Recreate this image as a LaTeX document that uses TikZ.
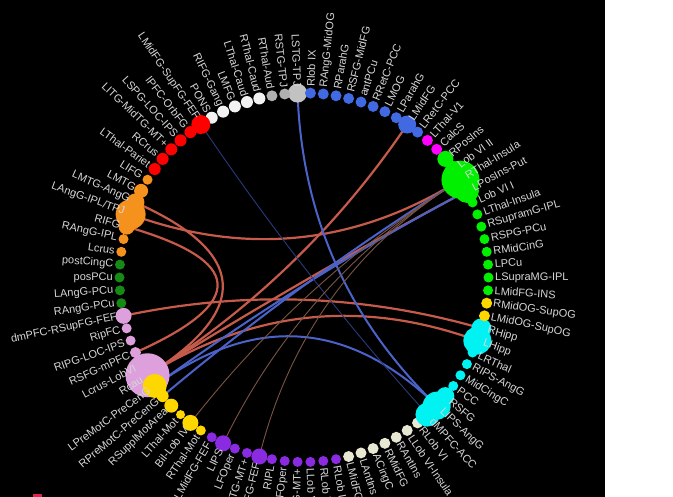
\documentclass[tikz,border=0pt]{standalone}
\usepackage{fontspec}
\setmainfont{Liberation Sans}
\usetikzlibrary{calc}
\pgfdeclarelayer{canvas}
\pgfdeclarelayer{links}
\pgfsetlayers{canvas,links,main}

% node groups
\definecolor{greybig}{HTML}{C2C2C2}
\definecolor{cgrey}{HTML}{B0B0B0}
\definecolor{cwhite}{HTML}{F2F2F2}
\definecolor{cred}{HTML}{FF0000}
\definecolor{corange}{HTML}{F5921E}
\definecolor{cgreen}{HTML}{158A15}
\definecolor{cplum}{HTML}{DDA0DD}
\definecolor{cgold}{HTML}{FFD700}
\definecolor{cpurple}{HTML}{8A2BE2}
\definecolor{ccream}{HTML}{E8E8D2}
\definecolor{ccyan}{HTML}{00F2F2}
\definecolor{clime}{HTML}{00F000}
\definecolor{cmagenta}{HTML}{FF00FF}
\definecolor{cblue}{HTML}{4169E1}
% links and text
\definecolor{linkred}{HTML}{C65B4B}
\definecolor{linkblue}{HTML}{4B63C9}
\definecolor{linknavy}{HTML}{2B3A7A}
\definecolor{linkbrown}{HTML}{7B5443}
\definecolor{labelgrey}{HTML}{D6D6D6}
\definecolor{swatch}{HTML}{E3234F}

\def\tpj{LAngG-IPL/TPJ}
% chord between two ring nodes, bent through the ring centre (o)
\newcommand\linkchord[3]{%
  \draw[#1] (n#2.center) .. controls ($(n#2.center)!0.6667!(o)$)
    and ($(n#3.center)!0.6667!(o)$) .. (n#3.center);}

\begin{document}
\begin{tikzpicture}[x=1pt,y=1pt,
  dot/.style={circle,inner sep=0pt,draw=none,minimum size={2*#1pt}},
  lbl/.style={text=labelgrey,font=\fontsize{11}{12}\selectfont,inner sep=0pt},
  redlink/.style={draw=linkred,line width=2.2pt},
  bluelink/.style={draw=linkblue,line width=2pt},
  navylink/.style={draw=linknavy,line width=0.9pt},
  brownlink/.style={draw=linkbrown,line width=0.9pt}]
\useasboundingbox (0,0) rectangle (673,497);
\begin{pgfonlayer}{canvas}
  \fill[white] (0,0) rectangle (673,497);
  \fill[black] (0,0) rectangle (605,497);
  \fill[swatch] (33,0) rectangle (42,2.5);
\end{pgfonlayer}
\clip (0,0) rectangle (673,497);

\begin{scope}[shift={(304,219.5)}]
\coordinate (o) at (0,0);

% ring of nodes
\foreach \a/\c/\r in {
  92/greybig/9.5, 96/cgrey/5.5, 100/cgrey/5.5,
  104/cwhite/6, 108/cwhite/6, 112/cwhite/6, 116/cwhite/6, 120/cwhite/6,
  124/cred/9.5, 128/cred/6, 132/cred/6, 136/cred/6, 140/cred/6, 144/cred/6,
  148/corange/5, 152/corange/7, 156/corange/9, 160/corange/15, 164/corange/8,
  168/corange/5, 172/corange/5,
  176/cgreen/5, 180/cgreen/5, 184/cgreen/5, 188/cgreen/5,
  192/cplum/8, 196/cplum/5, 200/cplum/5, 204/cplum/5.5, 208/cplum/9, 212/cplum/22,
  216/cgold/12, 220/cgold/6, 224/cgold/7, 228/cgold/4.5, 232/cgold/8, 236/cgold/5,
  240/cpurple/5, 244/cpurple/8, 248/cpurple/5, 252/cpurple/5, 256/cpurple/8,
  260/cpurple/5, 264/cpurple/5, 268/cpurple/5, 272/cpurple/5, 276/cpurple/5,
  280/cpurple/5,
  284/ccream/5.5, 288/ccream/5.5, 292/ccream/5.5, 296/ccream/5.5, 300/ccream/5.5,
  304/ccream/5.5, 308/ccream/5.5,
  312/ccyan/12, 316/ccyan/14, 320/ccyan/9, 324/ccyan/5, 328/ccyan/5,
  332/ccyan/5, 336/ccyan/5, 340/ccyan/14, 344/ccyan/10,
  348/cgold/5.5, 352/cgold/5.5,
  356/clime/5, 0/clime/5, 4/clime/5, 8/clime/5, 12/clime/5, 16/clime/5,
  20/clime/5, 24/clime/5, 28/clime/12, 32/clime/19, 36/clime/8, 40/clime/8,
  44/cmagenta/5.5, 48/cmagenta/5.5,
  52/cblue/5.5, 56/cblue/9, 60/cblue/5.5, 64/cblue/5.5, 68/cblue/5.5,
  72/cblue/5.5, 76/cblue/5.5, 80/cblue/5.5, 84/cblue/5.5, 88/cblue/5.5}
  {\node[dot=\r,fill=\c] (n\a) at (\a:184.5) {};}

% chords
\begin{pgfonlayer}{links}
  \linkchord{redlink}{160}{32}
  \linkchord{redlink}{212}{28}
  \linkchord{redlink}{212}{56}
  \linkchord{redlink}{156}{212}
  \linkchord{redlink}{164}{204}
  \linkchord{redlink}{192}{344}
  \linkchord{redlink}{212}{340}
  \linkchord{bluelink}{92}{316}
  \linkchord{bluelink}{216}{316}
  \linkchord{bluelink}{28}{216}
  \linkchord{bluelink}{32}{220}
  \linkchord{navylink}{124}{312}
  \linkchord{brownlink}{32}{232}
  \linkchord{brownlink}{32}{244}
  \linkchord{brownlink}{32}{256}
\end{pgfonlayer}

% radial labels
\foreach \a/\t in {
  92/LSTG-TPJ, 96/RSTG-TPJ, 100/RThal-Aud, 104/RThal-Caud, 108/LThal-Caud,
  112/LMFG, 116/RIFG-Gang, 120/PONS, 124/LMidFG-SupFG-FEF, 128/lPFC-OrbFG,
  132/LSPG-LOC-IPS, 136/LITG-MidTG-MT+, 140/RCrus, 144/LThal-Pariet, 148/LIFG,
  152/LMTG, 156/LMTG-AngG, 160/\tpj, 164/RIFG, 168/RAngG-IPL, 172/Lcrus,
  176/postCingC, 180/posPCu, 184/LAngG-PCu, 188/RAngG-PCu,
  192/dmPFC-RSupFG-FEF, 196/RipFC, 200/RIPG-LOC-IPS, 204/RSFG-mPFC,
  208/Lcrus-LobVI, 212/Rcau, 216/LPreMotC-PreCenG, 220/RPreMotC-PreCenG,
  224/RSupplMotArea, 228/LThal-Mot, 232/Bil-Lob IV, 236/RThal-Mot,
  240/LMidFG-FEF, 244/LIPS, 248/LFOper, 252/RMidTG-MT+, 256/RSupFG-FEF,
  260/RIPL, 264/RFOper, 268/LITG-MT+, 272/LLob VIII, 276/RLob VIII,
  280/RLob IV, 284/LMidFG, 288/LAntIns, 292/ACingC, 296/RMidFG, 300/RAntIns,
  304/LLob VI-Insula, 308/RLob VI, 312/dMPFC-ACC, 316/LIPS-AngG, 320/RSFG,
  324/PCC, 328/MidCingC, 332/RIPS-AngG, 336/LRThal, 340/LHipp, 344/RHipp,
  348/LMidOG-SupOG, 352/RMidOG-SupOG, 356/LMidFG-INS, 0/LSupraMG-IPL,
  4/LPCu, 8/RMidCinG, 12/RSPG-PCu, 16/RSupramG-IPL, 20/LThal-Insula,
  24/Lob VI I, 28/LPosIns-Put, 32/RThal-Insula, 36/Lob VI II, 40/RPosIns,
  44/CalcS, 48/LThal-V1, 52/LRetC-PCC, 56/LMidFG, 60/LParahG, 64/LMOG,
  68/RRetC-PCC, 72/antPCu, 76/RSFG-MidFG, 80/RParahG, 84/RAngG-MidOG,
  88/Rlob IX}
{%
  \pgfmathtruncatemacro\flip{(\a>90)&&(\a<270)}%
  \ifnum\flip=1
    \node[lbl,anchor=east,rotate=\a-180] (t\a) at (\a:191) {\t};
  \else
    \node[lbl,anchor=west,rotate=\a] (t\a) at (\a:191) {\t};
  \fi
}
\end{scope}
\end{tikzpicture}
\end{document}
